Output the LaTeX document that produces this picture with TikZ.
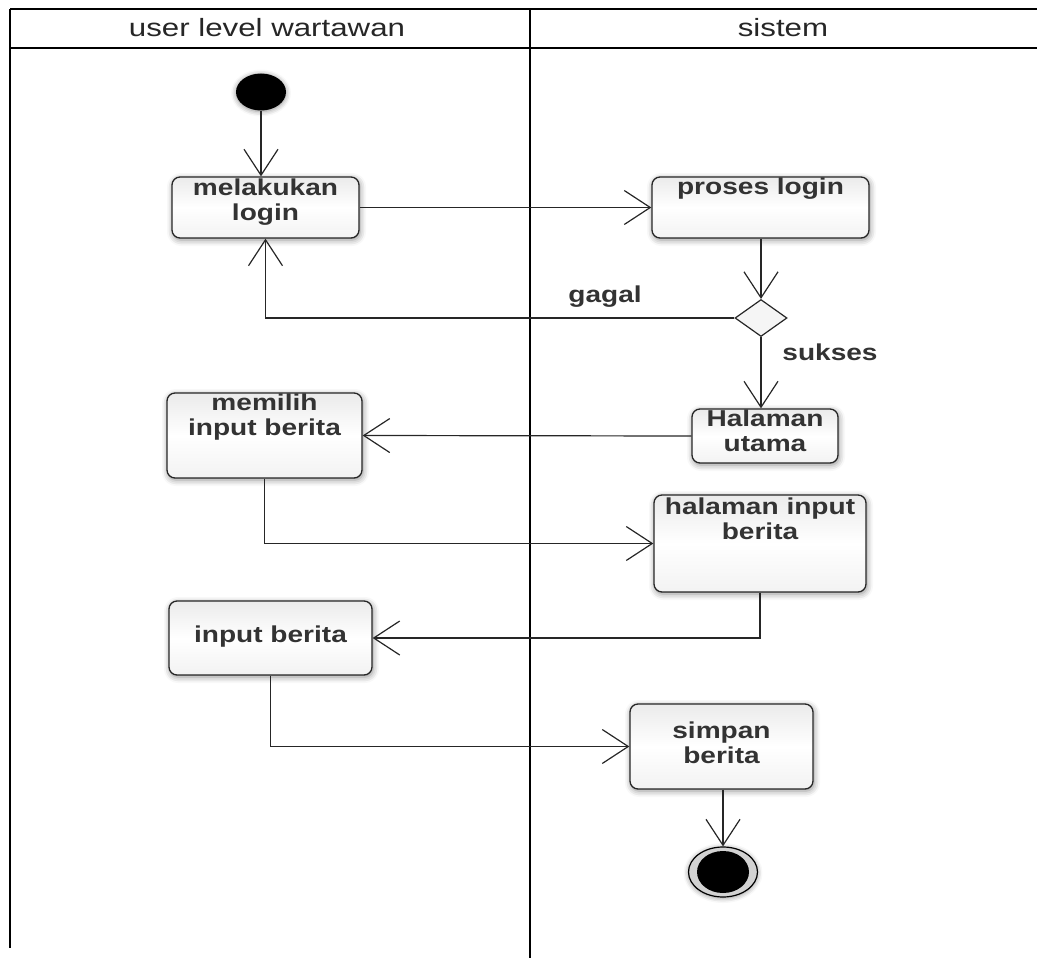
\documentclass[tikz,border=0pt]{standalone}
\usepackage{fontspec}
\setmainfont{Liberation Sans}
\usetikzlibrary{arrows.meta,shapes.geometric,shadows.blur}
\newcommand{\bx}[1]{\scalebox{1.22}[1]{\begin{tabular}{@{}c@{}}#1\end{tabular}}}
\newcommand{\hx}[1]{\scalebox{1.25}[1]{#1}}
\begin{document}
\begin{tikzpicture}[x=1pt,y=-1pt,
  lane/.style={line width=1.4pt,draw=black},
  actbox/.style={draw=black!85,line width=1.3pt,rounded corners=8pt,
    top color=gray!16,bottom color=gray!10,middle color=white,
    blur shadow={shadow xshift=1pt,shadow yshift=-2pt,shadow blur radius=6pt,shadow opacity=45}},
  txt/.style={inner sep=0pt,font=\fontsize{23}{25}\selectfont\bfseries,text=black!80},
  htxt/.style={inner sep=0pt,font=\fontsize{25}{28}\selectfont,text=black!85},
  flow/.style={line width=1.2pt,draw=black!85,-{Straight Barb[length=26pt,width=34pt,line width=1.2pt]}},
  dec/.style={diamond,draw=black!85,line width=1.2pt,fill=gray!8,minimum width=52pt,minimum height=37pt,inner sep=0pt,aspect=1.4},
  ]
\useasboundingbox (0,0) rectangle (1037,958);
% lanes
\draw[lane] (10,9) -- (1037,9);
\draw[lane] (10,48) -- (1037,48);
\draw[lane] (10,9) -- (10,948);
\draw[lane] (530,9) -- (530,958);
\node[htxt] (h1) at (267,28) {\hx{user level wartawan}};
\node[htxt] (h2) at (783,28) {\hx{sistem}};
% initial
\node[ellipse,fill=black,minimum width=50pt,minimum height=37pt,inner sep=0pt,
  blur shadow={shadow xshift=0pt,shadow yshift=-1pt,shadow blur radius=5pt,shadow opacity=45}] (init) at (261,92) {};
% boxes
\node[actbox,minimum width=187pt,minimum height=61pt] (login) at (265.5,207.5) {};
\node[txt] (tlogin) at (265.5,203) {\bx{melakukan\\login}};
\node[actbox,minimum width=217pt,minimum height=61pt] (proses) at (760.5,207.5) {};
\node[txt] (tproses) at (760.5,190) {\bx{proses login}};
\node[dec] (dia) at (761,318) {};
\node[actbox,minimum width=146pt,minimum height=54pt] (hu) at (765,436) {};
\node[txt] (thu) at (765,434) {\bx{Halaman\\utama}};
\node[actbox,minimum width=195pt,minimum height=85pt] (mem) at (264.5,435.5) {};
\node[txt] (tmem) at (264.5,418) {\bx{memilih\\input berita}};
\node[actbox,minimum width=212pt,minimum height=97pt] (hib) at (760,543.5) {};
\node[txt] (thib) at (760,522) {\bx{halaman input\\berita}};
\node[actbox,minimum width=203pt,minimum height=74pt] (inp) at (270.5,638) {};
\node[txt] (tinp) at (270.5,637) {\bx{input berita}};
\node[actbox,minimum width=183pt,minimum height=85pt] (simp) at (721.5,746.5) {};
\node[txt] (tsimp) at (721.5,745.5) {\bx{simpan\\berita}};
% final
\node[ellipse,draw=black,line width=1.2pt,fill=gray!35,minimum width=69pt,minimum height=50pt,inner sep=0pt,
  blur shadow={shadow xshift=0pt,shadow yshift=-1pt,shadow blur radius=5pt,shadow opacity=45}] (fin) at (723,872) {};
\node[ellipse,fill=black,minimum width=52pt,minimum height=42pt,inner sep=0pt] (finin) at (723,872) {};
% flows
\draw[flow] (init.south) -- (init.south |- login.north);
\draw[flow] (login.east) -- (proses.west);
\draw[flow] (proses.south -| dia) -- (dia.north);
\draw[flow] (dia.west) -| (login.south);
\node[txt] (lgagal) at (605,297) {\bx{gagal}};
\draw[flow] (dia.south) -- (dia.south |- hu.north);
\node[txt] (lsukses) at (830,355) {\bx{sukses}};
\draw[flow] (hu.west) -- (mem.east);
\draw[flow] (mem.south) |- (hib.west);
\draw[flow] (hib.south) |- (inp.east);
\draw[flow] (inp.south) |- (simp.west);
\draw[flow] (simp.south -| fin) -- (fin.north);
\end{tikzpicture}
\end{document}
